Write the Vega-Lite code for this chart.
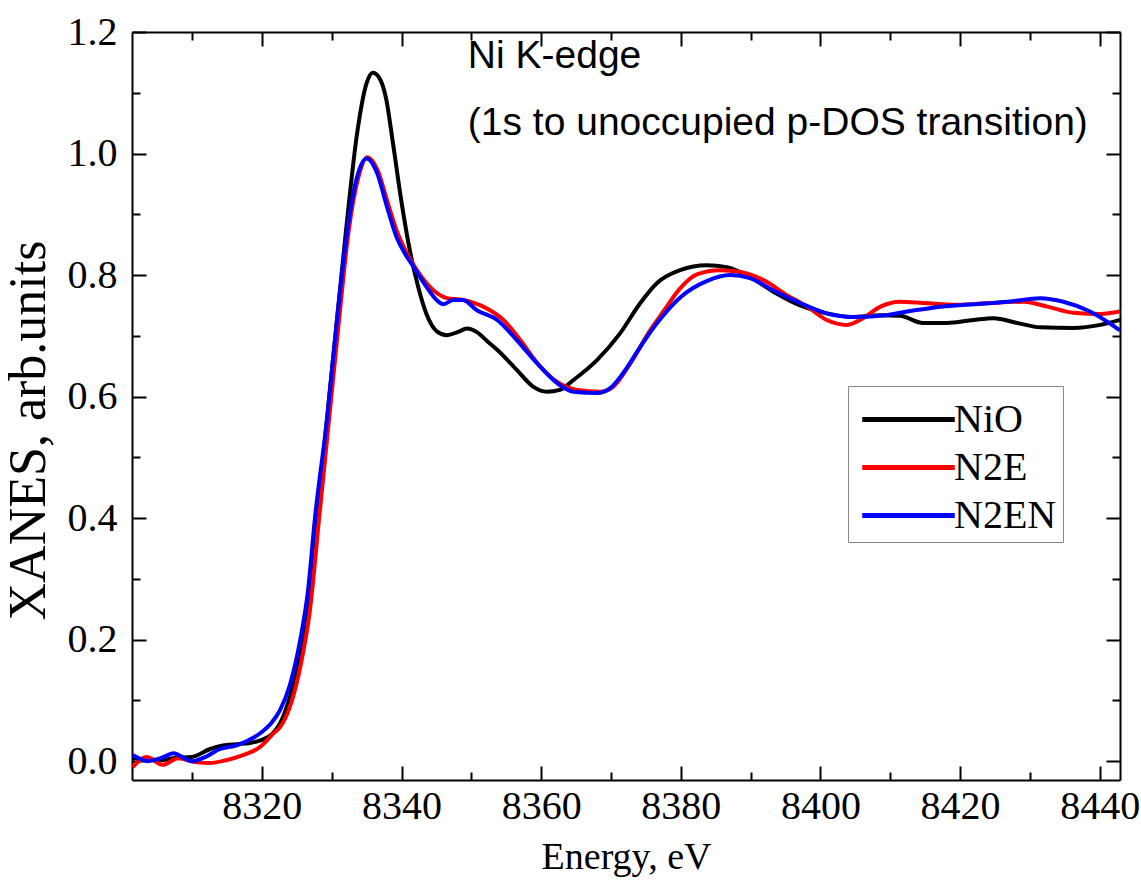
{
  "$schema": "https://vega.github.io/schema/vega-lite/v6.json",
  "width": 988,
  "height": 748,
  "autosize": {"type": "none"},
  "padding": {"left": 132, "top": 32, "right": 21, "bottom": 107},
  "background": "white",
  "config": {
    "view": {"stroke": null},
    "axis": {
      "grid": false,
      "domainColor": "black",
      "domainWidth": 2,
      "tickColor": "black",
      "tickWidth": 2,
      "labelFont": "Liberation Serif",
      "labelFontSize": 40,
      "labelColor": "black",
      "titleFont": "Liberation Serif",
      "titleFontSize": 38,
      "titleFontWeight": "normal",
      "titleColor": "black"
    }
  },
  "datasets": {
    "notes": [
      {"e": 8349.5, "v": 1.16, "t": "Ni K-edge"},
      {"e": 8349.5, "v": 1.05, "t": "(1s to unoccupied p-DOS transition)"}
    ],
    "curves": [
      {"s":"NiO","e":8301.5,"v":0.005},{"s":"NiO","e":8303.5,"v":0.003},{"s":"NiO","e":8305.8,"v":0.002},{"s":"NiO","e":8307.3,"v":0.005},{"s":"NiO","e":8310.0,"v":0.007},{"s":"NiO","e":8312.6,"v":0.02},{"s":"NiO","e":8314.4,"v":0.026},{"s":"NiO","e":8316.5,"v":0.028},{"s":"NiO","e":8318.3,"v":0.03},{"s":"NiO","e":8320.0,"v":0.035},{"s":"NiO","e":8321.5,"v":0.045},{"s":"NiO","e":8322.6,"v":0.062},{"s":"NiO","e":8324.0,"v":0.105},{"s":"NiO","e":8325.5,"v":0.175},{"s":"NiO","e":8326.5,"v":0.24},{"s":"NiO","e":8327.9,"v":0.40},{"s":"NiO","e":8329.3,"v":0.56},{"s":"NiO","e":8330.7,"v":0.72},{"s":"NiO","e":8332.2,"v":0.89},{"s":"NiO","e":8333.6,"v":1.03},{"s":"NiO","e":8335.0,"v":1.116},{"s":"NiO","e":8335.9,"v":1.133},{"s":"NiO","e":8336.8,"v":1.125},{"s":"NiO","e":8337.8,"v":1.09},{"s":"NiO","e":8338.8,"v":1.015},{"s":"NiO","e":8340.0,"v":0.92},{"s":"NiO","e":8341.2,"v":0.84},{"s":"NiO","e":8342.4,"v":0.78},{"s":"NiO","e":8343.6,"v":0.735},{"s":"NiO","e":8345.1,"v":0.707},{"s":"NiO","e":8346.5,"v":0.701},{"s":"NiO","e":8348.0,"v":0.706},{"s":"NiO","e":8349.4,"v":0.712},{"s":"NiO","e":8350.8,"v":0.706},{"s":"NiO","e":8352.2,"v":0.692},{"s":"NiO","e":8353.7,"v":0.677},{"s":"NiO","e":8356.5,"v":0.644},{"s":"NiO","e":8358.9,"v":0.616},{"s":"NiO","e":8360.8,"v":0.608},{"s":"NiO","e":8362.7,"v":0.611},{"s":"NiO","e":8364.6,"v":0.627},{"s":"NiO","e":8368.0,"v":0.66},{"s":"NiO","e":8371.3,"v":0.704},{"s":"NiO","e":8374.2,"v":0.754},{"s":"NiO","e":8376.6,"v":0.787},{"s":"NiO","e":8379.9,"v":0.808},{"s":"NiO","e":8383.7,"v":0.816},{"s":"NiO","e":8386.6,"v":0.813},{"s":"NiO","e":8389.9,"v":0.797},{"s":"NiO","e":8393.2,"v":0.773},{"s":"NiO","e":8397.1,"v":0.75},{"s":"NiO","e":8400.9,"v":0.737},{"s":"NiO","e":8404.7,"v":0.731},{"s":"NiO","e":8408.6,"v":0.734},{"s":"NiO","e":8411.4,"v":0.733},{"s":"NiO","e":8414.7,"v":0.721},{"s":"NiO","e":8418.1,"v":0.721},{"s":"NiO","e":8421.9,"v":0.726},{"s":"NiO","e":8424.8,"v":0.729},{"s":"NiO","e":8428.2,"v":0.721},{"s":"NiO","e":8431.5,"v":0.714},{"s":"NiO","e":8436.2,"v":0.713},{"s":"NiO","e":8440.1,"v":0.718},{"s":"NiO","e":8442.9,"v":0.726},
      {"s":"N2E","e":8301.5,"v":-0.01},{"s":"N2E","e":8303.5,"v":0.007},{"s":"N2E","e":8305.8,"v":-0.006},{"s":"N2E","e":8308.0,"v":0.005},{"s":"N2E","e":8310.7,"v":-0.002},{"s":"N2E","e":8312.6,"v":-0.003},{"s":"N2E","e":8315.0,"v":0.002},{"s":"N2E","e":8317.3,"v":0.01},{"s":"N2E","e":8319.7,"v":0.023},{"s":"N2E","e":8321.6,"v":0.045},{"s":"N2E","e":8322.6,"v":0.056},{"s":"N2E","e":8324.0,"v":0.089},{"s":"N2E","e":8325.5,"v":0.155},{"s":"N2E","e":8326.9,"v":0.25},{"s":"N2E","e":8328.2,"v":0.40},{"s":"N2E","e":8329.6,"v":0.56},{"s":"N2E","e":8331.0,"v":0.72},{"s":"N2E","e":8332.4,"v":0.87},{"s":"N2E","e":8333.8,"v":0.96},{"s":"N2E","e":8335.1,"v":0.994},{"s":"N2E","e":8336.6,"v":0.972},{"s":"N2E","e":8338.0,"v":0.92},{"s":"N2E","e":8339.4,"v":0.87},{"s":"N2E","e":8340.8,"v":0.835},{"s":"N2E","e":8342.2,"v":0.808},{"s":"N2E","e":8344.1,"v":0.78},{"s":"N2E","e":8346.5,"v":0.762},{"s":"N2E","e":8348.8,"v":0.759},{"s":"N2E","e":8351.7,"v":0.748},{"s":"N2E","e":8354.6,"v":0.726},{"s":"N2E","e":8357.0,"v":0.693},{"s":"N2E","e":8359.9,"v":0.649},{"s":"N2E","e":8362.3,"v":0.624},{"s":"N2E","e":8365.1,"v":0.611},{"s":"N2E","e":8368.5,"v":0.608},{"s":"N2E","e":8370.3,"v":0.616},{"s":"N2E","e":8372.8,"v":0.655},{"s":"N2E","e":8375.6,"v":0.709},{"s":"N2E","e":8377.5,"v":0.74},{"s":"N2E","e":8379.9,"v":0.778},{"s":"N2E","e":8382.3,"v":0.801},{"s":"N2E","e":8385.6,"v":0.808},{"s":"N2E","e":8388.5,"v":0.805},{"s":"N2E","e":8391.8,"v":0.792},{"s":"N2E","e":8395.2,"v":0.767},{"s":"N2E","e":8398.1,"v":0.748},{"s":"N2E","e":8400.9,"v":0.726},{"s":"N2E","e":8403.8,"v":0.718},{"s":"N2E","e":8406.1,"v":0.729},{"s":"N2E","e":8408.6,"v":0.748},{"s":"N2E","e":8411.4,"v":0.756},{"s":"N2E","e":8414.7,"v":0.754},{"s":"N2E","e":8419.6,"v":0.751},{"s":"N2E","e":8424.3,"v":0.754},{"s":"N2E","e":8429.1,"v":0.756},{"s":"N2E","e":8432.5,"v":0.748},{"s":"N2E","e":8436.2,"v":0.738},{"s":"N2E","e":8440.1,"v":0.736},{"s":"N2E","e":8442.9,"v":0.74},
      {"s":"N2EN","e":8301.5,"v":0.01},{"s":"N2EN","e":8303.7,"v":0.0},{"s":"N2EN","e":8305.8,"v":0.006},{"s":"N2EN","e":8307.3,"v":0.013},{"s":"N2EN","e":8310.0,"v":0.0},{"s":"N2EN","e":8312.1,"v":0.008},{"s":"N2EN","e":8314.0,"v":0.02},{"s":"N2EN","e":8316.4,"v":0.026},{"s":"N2EN","e":8318.7,"v":0.038},{"s":"N2EN","e":8320.0,"v":0.048},{"s":"N2EN","e":8321.3,"v":0.062},{"s":"N2EN","e":8322.6,"v":0.084},{"s":"N2EN","e":8324.0,"v":0.125},{"s":"N2EN","e":8325.5,"v":0.2},{"s":"N2EN","e":8326.6,"v":0.28},{"s":"N2EN","e":8327.6,"v":0.40},{"s":"N2EN","e":8329.3,"v":0.56},{"s":"N2EN","e":8330.7,"v":0.72},{"s":"N2EN","e":8332.2,"v":0.87},{"s":"N2EN","e":8333.6,"v":0.96},{"s":"N2EN","e":8335.0,"v":0.992},{"s":"N2EN","e":8336.5,"v":0.968},{"s":"N2EN","e":8337.9,"v":0.913},{"s":"N2EN","e":8339.3,"v":0.862},{"s":"N2EN","e":8340.5,"v":0.835},{"s":"N2EN","e":8341.7,"v":0.814},{"s":"N2EN","e":8343.6,"v":0.78},{"s":"N2EN","e":8345.1,"v":0.758},{"s":"N2EN","e":8346.0,"v":0.752},{"s":"N2EN","e":8347.4,"v":0.759},{"s":"N2EN","e":8348.8,"v":0.759},{"s":"N2EN","e":8350.8,"v":0.742},{"s":"N2EN","e":8353.7,"v":0.726},{"s":"N2EN","e":8356.5,"v":0.693},{"s":"N2EN","e":8359.4,"v":0.655},{"s":"N2EN","e":8362.3,"v":0.622},{"s":"N2EN","e":8364.6,"v":0.608},{"s":"N2EN","e":8368.0,"v":0.606},{"s":"N2EN","e":8369.9,"v":0.614},{"s":"N2EN","e":8371.7,"v":0.638},{"s":"N2EN","e":8374.2,"v":0.682},{"s":"N2EN","e":8376.6,"v":0.721},{"s":"N2EN","e":8380.0,"v":0.764},{"s":"N2EN","e":8383.7,"v":0.79},{"s":"N2EN","e":8387.1,"v":0.8},{"s":"N2EN","e":8389.9,"v":0.795},{"s":"N2EN","e":8393.2,"v":0.775},{"s":"N2EN","e":8397.1,"v":0.754},{"s":"N2EN","e":8400.9,"v":0.737},{"s":"N2EN","e":8404.7,"v":0.731},{"s":"N2EN","e":8408.6,"v":0.733},{"s":"N2EN","e":8412.4,"v":0.74},{"s":"N2EN","e":8417.2,"v":0.748},{"s":"N2EN","e":8421.9,"v":0.752},{"s":"N2EN","e":8426.8,"v":0.756},{"s":"N2EN","e":8431.5,"v":0.762},{"s":"N2EN","e":8434.8,"v":0.756},{"s":"N2EN","e":8438.6,"v":0.74},{"s":"N2EN","e":8442.9,"v":0.709}
    ]
  },
  "layer": [
    {
      "data": {"name": "curves"},
      "mark": {"type": "line", "strokeWidth": 4, "interpolate": "monotone", "clip": true},
      "encoding": {
        "x": {
          "field": "e", "type": "quantitative",
          "scale": {"domain": [8301.4, 8442.9], "nice": false, "zero": false},
          "axis": {
            "orient": "bottom",
            "values": [8310, 8320, 8330, 8340, 8350, 8360, 8370, 8380, 8390, 8400, 8410, 8420, 8430, 8440],
            "format": "d",
            "labelExpr": "datum.value % 20 === 0 ? datum.label : ''",
            "tickSize": {"condition": {"test": "datum.value % 20 === 0", "value": -14}, "value": -8},
            "labelPadding": 20,
            "labelFlush": false,
            "labelOverlap": false,
            "title": "Energy, eV",
            "titlePadding": 6
          }
        },
        "y": {
          "field": "v", "type": "quantitative",
          "scale": {"domain": [-0.031, 1.2], "nice": false, "zero": false},
          "axis": {
            "orient": "left",
            "values": [0, 0.1, 0.2, 0.3, 0.4, 0.5, 0.6, 0.7, 0.8, 0.9, 1.0, 1.1, 1.2],
            "format": ".1f",
            "labelExpr": "round(datum.value * 10) % 2 === 0 ? datum.label : ''",
            "tickSize": {"condition": {"test": "round(datum.value * 10) % 2 === 0", "value": -14}, "value": -8},
            "labelPadding": 29,
            "labelFlush": false,
            "labelOverlap": false,
            "title": "XANES, arb.units",
            "titleFontSize": 52,
            "titleY": 398,
            "titlePadding": 12
          }
        },
        "color": {
          "field": "s", "type": "nominal",
          "scale": {"domain": ["NiO", "N2E", "N2EN"], "range": ["#000000", "#ff0000", "#0000ff"]},
          "legend": {
            "orient": "none",
            "legendX": 716,
            "legendY": 354,
            "title": null,
            "symbolType": "M-1.85,0H1.85",
            "symbolSize": 2500,
            "symbolStrokeWidth": 5,
            "symbolOffset": 27,
            "labelFont": "Liberation Serif",
            "labelFontSize": 40,
            "labelColor": "black",
            "labelOffset": 18,
            "strokeColor": "#888888",
            "fillColor": "white",
            "padding": 6,
            "rowPadding": 0
          }
        }
      }
    },
    {
      "data": {"name": "notes"},
      "mark": {"type": "text", "font": "Liberation Sans", "fontSize": 39, "align": "left", "baseline": "middle", "color": "black"},
      "encoding": {
        "x": {
          "field": "e", "type": "quantitative",
          "axis": {
            "orient": "top",
            "values": [8310, 8320, 8330, 8340, 8350, 8360, 8370, 8380, 8390, 8400, 8410, 8420, 8430, 8440],
            "labels": false,
            "title": null,
            "tickSize": {"condition": {"test": "datum.value % 20 === 0", "value": -14}, "value": -8}
          }
        },
        "y": {
          "field": "v", "type": "quantitative",
          "axis": {
            "orient": "right",
            "values": [0, 0.1, 0.2, 0.3, 0.4, 0.5, 0.6, 0.7, 0.8, 0.9, 1.0, 1.1, 1.2],
            "labels": false,
            "title": null,
            "tickSize": {"condition": {"test": "round(datum.value * 10) % 2 === 0", "value": -14}, "value": -8}
          }
        },
        "text": {"field": "t"}
      }
    }
  ],
  "resolve": {"axis": {"x": "independent", "y": "independent"}}
}
